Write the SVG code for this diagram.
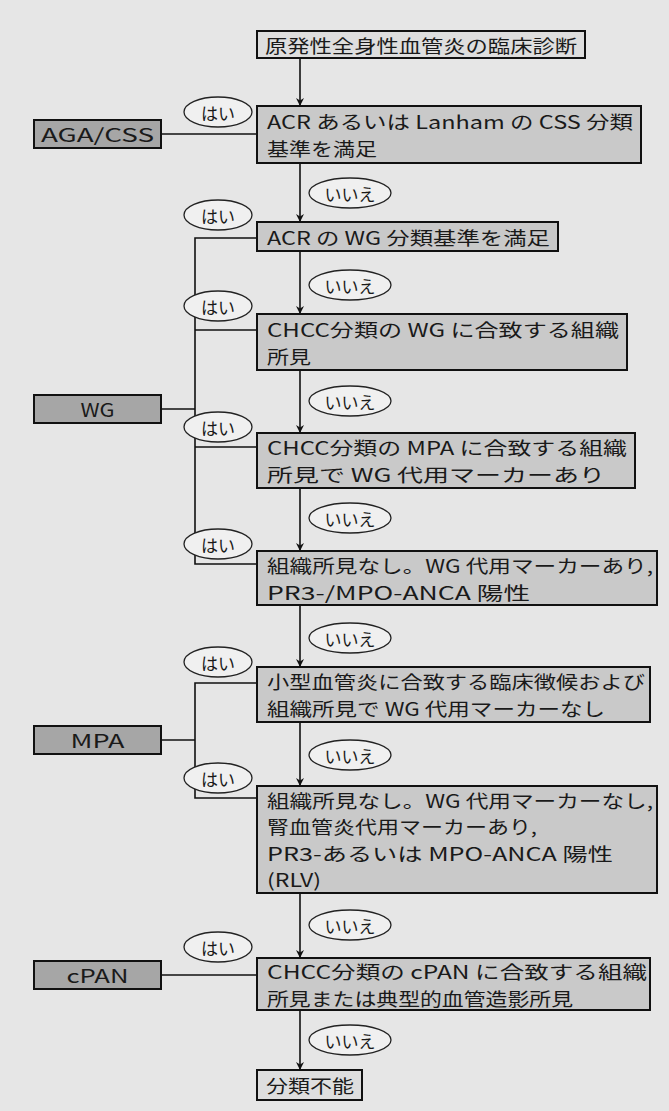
<svg xmlns="http://www.w3.org/2000/svg" width="669" height="1111" viewBox="0 0 669 1111">
<style>
.bg{fill:#e6e6e6}
.dec{fill:#c9c9c9;stroke:#111;stroke-width:2}
.plain{fill:#dedede;stroke:#111;stroke-width:2}
.out{fill:#a6a6a6;stroke:#111;stroke-width:2}
.lbl{fill:#f0f0f0;stroke:#222;stroke-width:1.3}
.t{font-family:"Noto Sans CJK JP","Noto Sans",sans-serif;font-size:18.4px;fill:#1a1a1a;dominant-baseline:central}
.s{font-family:"Noto Sans CJK JP","Noto Sans",sans-serif;font-size:17px;fill:#1a1a1a;dominant-baseline:central;text-anchor:middle}
.c{text-anchor:middle}
.ln{stroke:#111;stroke-width:1.6;fill:none}
</style>
<defs>
<marker id="ah" viewBox="0 0 10 10" refX="10" refY="5" markerWidth="8" markerHeight="8" markerUnits="userSpaceOnUse" orient="auto">
<path d="M0,0 L10,5 L0,10 L3,5 z" fill="#111"/>
</marker>
</defs>
<rect class="bg" x="0" y="0" width="669" height="1111"/>

<g id="connectors">
<line class="ln" x1="300" y1="58" x2="300" y2="106" marker-end="url(#ah)"/>
<line class="ln" x1="300" y1="163" x2="300" y2="222" marker-end="url(#ah)"/>
<line class="ln" x1="300" y1="251" x2="300" y2="314" marker-end="url(#ah)"/>
<line class="ln" x1="300" y1="370" x2="300" y2="433" marker-end="url(#ah)"/>
<line class="ln" x1="300" y1="488" x2="300" y2="551" marker-end="url(#ah)"/>
<line class="ln" x1="300" y1="605" x2="300" y2="667" marker-end="url(#ah)"/>
<line class="ln" x1="300" y1="722" x2="300" y2="786" marker-end="url(#ah)"/>
<line class="ln" x1="300" y1="893" x2="300" y2="958" marker-end="url(#ah)"/>
<line class="ln" x1="300" y1="1010" x2="300" y2="1070" marker-end="url(#ah)"/>
<line class="ln" x1="161" y1="134" x2="257" y2="134"/>
<polyline class="ln" points="257,238 195,238 195,564 257,564"/>
<line class="ln" x1="195" y1="330" x2="257" y2="330"/>
<line class="ln" x1="195" y1="447" x2="257" y2="447"/>
<line class="ln" x1="161" y1="409" x2="195" y2="409"/>
<polyline class="ln" points="257,683 195,683 195,798 257,798"/>
<line class="ln" x1="161" y1="740" x2="195" y2="740"/>
<line class="ln" x1="161" y1="975" x2="257" y2="975"/>
</g>

<g id="labels">
<g id="yes1"><ellipse class="lbl" cx="218" cy="112" rx="34" ry="15"/><text class="s" x="218" y="112">はい</text></g>
<g id="no1"><ellipse class="lbl" cx="350" cy="193" rx="41" ry="15"/><text class="s" x="350" y="193">いいえ</text></g>
<g id="yes2"><ellipse class="lbl" cx="218" cy="215" rx="34" ry="15"/><text class="s" x="218" y="215">はい</text></g>
<g id="no2"><ellipse class="lbl" cx="350" cy="285" rx="41" ry="15"/><text class="s" x="350" y="285">いいえ</text></g>
<g id="yes3"><ellipse class="lbl" cx="218" cy="306" rx="34" ry="15"/><text class="s" x="218" y="306">はい</text></g>
<g id="no3"><ellipse class="lbl" cx="350" cy="401" rx="41" ry="15"/><text class="s" x="350" y="401">いいえ</text></g>
<g id="yes4"><ellipse class="lbl" cx="218" cy="427" rx="34" ry="15"/><text class="s" x="218" y="427">はい</text></g>
<g id="no4"><ellipse class="lbl" cx="350" cy="518" rx="41" ry="15"/><text class="s" x="350" y="518">いいえ</text></g>
<g id="yes5"><ellipse class="lbl" cx="218" cy="544" rx="34" ry="15"/><text class="s" x="218" y="544">はい</text></g>
<g id="no5"><ellipse class="lbl" cx="350" cy="638" rx="41" ry="15"/><text class="s" x="350" y="638">いいえ</text></g>
<g id="yes6"><ellipse class="lbl" cx="218" cy="662" rx="34" ry="15"/><text class="s" x="218" y="662">はい</text></g>
<g id="no6"><ellipse class="lbl" cx="350" cy="755" rx="41" ry="15"/><text class="s" x="350" y="755">いいえ</text></g>
<g id="yes7"><ellipse class="lbl" cx="218" cy="778" rx="34" ry="15"/><text class="s" x="218" y="778">はい</text></g>
<g id="no7"><ellipse class="lbl" cx="350" cy="925" rx="41" ry="15"/><text class="s" x="350" y="925">いいえ</text></g>
<g id="yes8"><ellipse class="lbl" cx="218" cy="947" rx="34" ry="15"/><text class="s" x="218" y="947">はい</text></g>
<g id="no8"><ellipse class="lbl" cx="350" cy="1040" rx="41" ry="15"/><text class="s" x="350" y="1040">いいえ</text></g>
</g>

<g id="start"><rect class="plain" x="257" y="31" width="328" height="27"/><text class="t" x="265" y="45" textLength="312" lengthAdjust="spacingAndGlyphs">原発性全身性血管炎の臨床診断</text></g>

<g id="q1"><rect class="dec" x="257" y="106" width="384" height="57"/>
<text class="t" x="267" y="121" textLength="366" lengthAdjust="spacingAndGlyphs">ACR あるいは Lanham の CSS 分類</text>
<text class="t" x="267" y="148" textLength="110" lengthAdjust="spacingAndGlyphs">基準を満足</text></g>

<g id="q2"><rect class="dec" x="257" y="222" width="301" height="29"/>
<text class="t" x="267" y="237" textLength="283" lengthAdjust="spacingAndGlyphs">ACR の WG 分類基準を満足</text></g>

<g id="q3"><rect class="dec" x="257" y="314" width="370" height="56"/>
<text class="t" x="267" y="328.5" textLength="352" lengthAdjust="spacingAndGlyphs">CHCC分類の WG に合致する組織</text>
<text class="t" x="267" y="355.5" textLength="44" lengthAdjust="spacingAndGlyphs">所見</text></g>

<g id="q4"><rect class="dec" x="257" y="433" width="378" height="55"/>
<text class="t" x="267" y="447" textLength="360" lengthAdjust="spacingAndGlyphs">CHCC分類の MPA に合致する組織</text>
<text class="t" x="267" y="474" textLength="338" lengthAdjust="spacingAndGlyphs">所見で WG 代用マーカーあり</text></g>

<g id="q5"><rect class="dec" x="257" y="551" width="400" height="54"/>
<text class="t" x="267" y="564.5" textLength="386" lengthAdjust="spacingAndGlyphs">組織所見なし。WG 代用マーカーあり,</text>
<text class="t" x="267" y="591.5" textLength="263" lengthAdjust="spacingAndGlyphs">PR3-/MPO-ANCA 陽性</text></g>

<g id="q6"><rect class="dec" x="257" y="667" width="393" height="55"/>
<text class="t" x="267" y="681" textLength="378" lengthAdjust="spacingAndGlyphs">小型血管炎に合致する臨床徴候および</text>
<text class="t" x="267" y="708" textLength="338" lengthAdjust="spacingAndGlyphs">組織所見で WG 代用マーカーなし</text></g>

<g id="q7"><rect class="dec" x="257" y="786" width="400" height="107"/>
<text class="t" x="267" y="799.6" textLength="386" lengthAdjust="spacingAndGlyphs">組織所見なし。WG 代用マーカーなし,</text>
<text class="t" x="267" y="826.2" textLength="270" lengthAdjust="spacingAndGlyphs">腎血管炎代用マーカーあり,</text>
<text class="t" x="267" y="852.8" textLength="346" lengthAdjust="spacingAndGlyphs">PR3-あるいは MPO-ANCA 陽性</text>
<text class="t" x="267" y="879.4" textLength="54" lengthAdjust="spacingAndGlyphs">(RLV)</text></g>

<g id="q8"><rect class="dec" x="257" y="958" width="393" height="52"/>
<text class="t" x="267" y="970.5" textLength="380" lengthAdjust="spacingAndGlyphs">CHCC分類の cPAN に合致する組織</text>
<text class="t" x="267" y="997.5" textLength="306" lengthAdjust="spacingAndGlyphs">所見または典型的血管造影所見</text></g>

<g id="end"><rect class="plain" x="257" y="1070" width="105" height="30"/><text class="t" x="266" y="1085" textLength="88" lengthAdjust="spacingAndGlyphs">分類不能</text></g>

<g id="aga"><rect class="out" x="34" y="120" width="127" height="28"/><text class="t c" x="97.5" y="134" textLength="113" lengthAdjust="spacingAndGlyphs">AGA/CSS</text></g>
<g id="wg"><rect class="out" x="34" y="395" width="127" height="28"/><text class="t c" x="97.5" y="409" textLength="34" lengthAdjust="spacingAndGlyphs">WG</text></g>
<g id="mpa"><rect class="out" x="34" y="726" width="127" height="28"/><text class="t c" x="97.5" y="740" textLength="54" lengthAdjust="spacingAndGlyphs">MPA</text></g>
<g id="cpan"><rect class="out" x="34" y="961" width="127" height="28"/><text class="t c" x="97.5" y="975" textLength="62" lengthAdjust="spacingAndGlyphs">cPAN</text></g>
</svg>
